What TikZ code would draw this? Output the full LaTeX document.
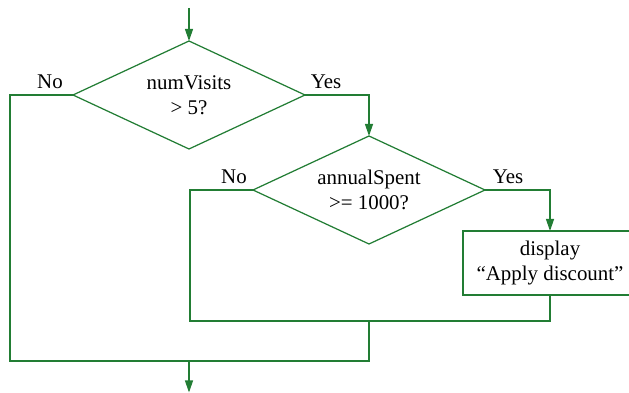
\documentclass[tikz,border=0pt]{standalone}
\usepackage{fontspec}
\setmainfont{Liberation Serif}
\usetikzlibrary{shapes.geometric,arrows.meta}
\definecolor{flowgreen}{RGB}{34,125,52}

\begin{document}
\begin{tikzpicture}[
		flow/.style={draw=flowgreen, line width=0.7pt},
		decision/.style={flow, diamond, aspect=2.15, minimum width=4.64cm, minimum height=2.16cm, inner sep=0pt, outer sep=0pt, align=center},
		action/.style={flow, rectangle, minimum width=3.48cm, minimum height=1.28cm, outer sep=0pt, align=center},
		>={Triangle[length=0.24cm, width=0.16cm]},
		font=\fontsize{11.9}{14.2}\selectfont]
		\useasboundingbox (0, 0) rectangle (12.58, -7.86);
		\coordinate (start) at (3.78, -0.16);
		\node [decision] (visits) at (3.78, -1.9) {numVisits\\> 5?};
		\node (visitsNo) at (1.0, -1.64) {No};
		\node (visitsYes) at (6.52, -1.64) {Yes};
		\node [decision] (spent) at (7.38, -3.8) {annualSpent\\>= 1000?};
		\node (spentNo) at (4.68, -3.54) {No};
		\node (spentYes) at (10.16, -3.54) {Yes};
		\node [action] (discount) at (11.0, -5.26) {display\\“Apply discount”};
		\coordinate (join2) at (7.38, -6.42);
		\coordinate (join1) at (3.78, -7.22);
		\coordinate (finish) at (3.78, -7.85);
		\draw [flow, ->] (start) -- (visits.north);
		\draw [flow, ->] (visits.east) -| (spent.north);
		\draw [flow] (visits.west) -- ++(-1.26, 0) |- (join2 |- join1) -- (join2);
		\draw [flow, ->] (spent.east) -| (discount.north);
		\draw [flow] (spent.west) -- ++(-1.26, 0) |- (discount.south |- join2) -- (discount.south);
		\draw [flow, ->] (join1) -- (finish);
	\end{tikzpicture}
\end{document}
